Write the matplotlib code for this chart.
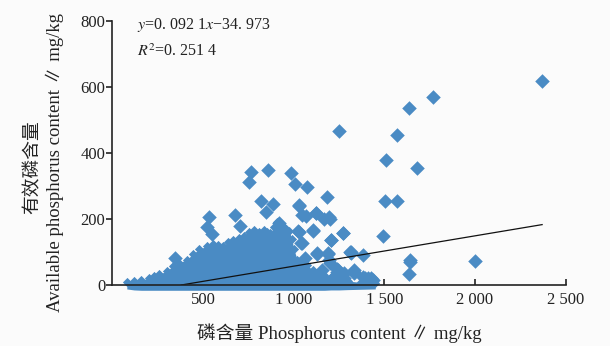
import matplotlib
matplotlib.use("Agg")
import matplotlib.pyplot as plt

plt.rcParams['font.family'] = ['Liberation Serif', 'Noto Sans CJK SC', 'DejaVu Sans']
plt.rcParams['mathtext.fontset'] = 'stix'

# puntos aislados (contenido de fósforo, fósforo disponible)
pts_x = [344, 535, 520, 548, 674, 706, 756, 767, 818, 848, 861, 887, 919, 985,
         1009, 1022, 1028, 1044, 1065, 1068, 1072, 1104, 1124, 1128, 1165, 1183,
         1191, 1196, 1202, 1206, 1237, 1248, 1272, 1311, 1318, 1383, 1243, 1261,
         1278, 1224, 1333, 1335, 1381, 1409, 1437, 1270, 1493, 1504, 1509, 1572,
         1572, 1635, 1678, 1770, 1635, 1640, 1644, 2000, 2368,
         1042, 1128, 1191, 1202, 1239, 1317, 1335, 1391, 1270, 1206, 1104, 1030,
         1048, 1122, 1196, 1030, 965, 1159, 1280, 1428]
pts_y = [81, 205, 177, 156, 212, 180, 311, 343, 254, 220, 348, 246, 189, 338,
         305, 164, 239, 128, 81, 210, 298, 165, 218, 95, 201, 268,
         93, 76, 201, 137, 48, 467, 158, 101, 98, 91, 45, 15,
         36, 25, 36, 45, 25, 21, 15, 20, 149, 255, 378, 454,
         255, 537, 355, 571, 32, 69, 76, 74, 618,
         126, 96, 96, 66, 40, 101, 40, 20, 157, 136, 167, 162,
         212, 217, 207, 242, 116, 45, 20, 20]

# contorno de la nube densa de puntos
cloud_x = [80, 120, 160, 200, 230, 260, 300, 335, 370, 410, 445, 480, 520, 557,
           585, 613, 640, 668, 696, 724, 752, 780, 808, 835, 855, 872, 890, 909,
           928, 945, 960, 974, 990, 1000, 1020, 1048, 1076, 1104, 1131, 1170,
           1206, 1250, 1298, 1370, 1450]
cloud_top = [8, 12, 15, 20, 26, 33, 42, 58, 68, 76, 95, 108, 118, 125,
             122, 118, 130, 136, 142, 150, 160, 167, 162, 167, 160, 157, 175, 190,
             185, 175, 170, 165, 140, 110, 76, 66, 60, 45, 35, 30,
             25, 18, 12, 8, 5]
cloud_low = [-12, -15, -16, -16, -16, -16, -16, -16, -16, -16, -16, -16, -16, -16,
             -16, -16, -16, -16, -16, -16, -16, -16, -16, -16, -16, -16, -16, -16,
             -16, -16, -16, -16, -16, -16, -16, -16, -16, -16, -16, -16,
             -15, -15, -14, -13, -12]

# recta de regresión y = 0.0921x - 34.973
trend_x = [380, 2370]
trend_y = [0, 183]

color = '#4a8bc4'

fig = plt.figure(figsize=(6.1, 3.46), dpi=100, facecolor='#fbfbfb')
ax = fig.add_axes([112.3 / 610, 61 / 346, 453.4 / 610, 264 / 346])
ax.set_facecolor('#fbfbfb')

ax.fill_between(cloud_x, cloud_low, cloud_top, color=color, lw=0, clip_on=False, zorder=2)
ax.scatter(cloud_x, cloud_top, marker='D', s=22, color=color, lw=0, clip_on=False, zorder=2)
ax.scatter(pts_x, pts_y, marker='D', s=55, color=color, lw=0, clip_on=False, zorder=2)
ax.plot(trend_x, trend_y, color='#111111', lw=0.9, zorder=3)

ax.set_xlim(0, 2500)
ax.set_ylim(0, 800)
ax.set_xticks([500, 1000, 1500, 2000, 2500])
ax.set_xticklabels(['500', '1 000', '1 500', '2 000', '2 500'])
ax.set_yticks([0, 200, 400, 600, 800])

for s in ['top', 'right']:
    ax.spines[s].set_visible(False)
for s in ['left', 'bottom']:
    ax.spines[s].set_linewidth(1.2)
    ax.spines[s].set_color('#222222')
    ax.spines[s].set_zorder(4)

ax.tick_params(axis='x', direction='in', length=4, width=1.2, pad=5, labelsize=12, colors='#222222')
ax.tick_params(axis='y', direction='out', length=4, width=1.2, pad=1, labelsize=12, colors='#222222')

ax.text(0.055, 0.985, r'$y$=0. 092 1$x$−34. 973', transform=ax.transAxes,
        fontsize=11.5, va='center', ha='left', color='#222222')
ax.text(0.055, 0.885, r'$R^2$=0. 251 4', transform=ax.transAxes,
        fontsize=11.5, va='center', ha='left', color='#222222')

fig.text(339 / 610, 1 - 333 / 346, '磷含量 Phosphorus content ∥ mg/kg',
         ha='center', va='center', fontsize=13.5, color='#222222')
fig.text(33 / 610, 1 - 167 / 346, '有效磷含量', rotation=90,
         ha='center', va='center', fontsize=13.5, color='#222222')
fig.text(55 / 610, 1 - 163 / 346, 'Available phosphorus content ∥ mg/kg', rotation=90,
         ha='center', va='center', fontsize=13.5, color='#222222')

fig.savefig('out.png', dpi=100, facecolor=fig.get_facecolor())
